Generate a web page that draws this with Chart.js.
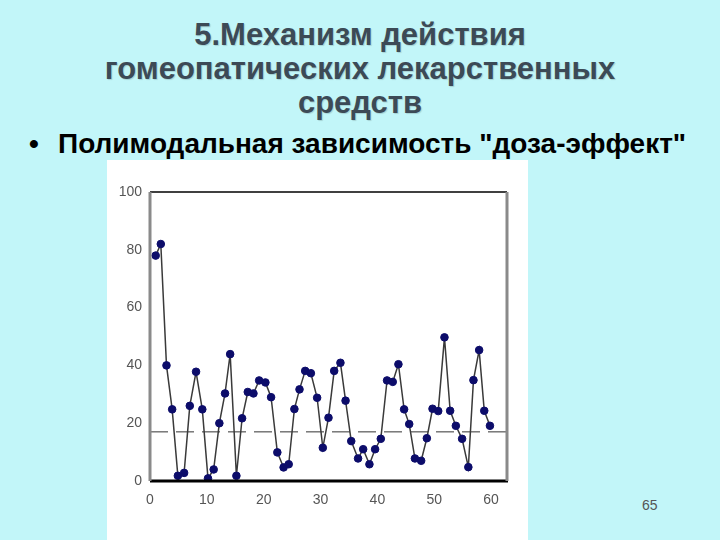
<!DOCTYPE html>
<html>
<head>
<meta charset="utf-8">
<script src="https://cdn.jsdelivr.net/npm/chart.js@4"></script>
<style>
    html, body { margin: 0; padding: 0; }
    body {
        width: 720px; height: 540px; overflow: hidden; position: relative;
        background: #c2f6f9;
        font-family: "Liberation Sans", Arial, sans-serif;
    }
    .title {
        position: absolute; left: 0; width: 720px; text-align: center;
        font-weight: bold; font-size: 31px; color: #3c4a56; line-height: 34px;
        top: 18px;
        text-shadow: 1px 1px 1px rgba(0,0,0,0.15);
    }
    .bullet {
        position: absolute; left: 29px; top: 128px;
        font-weight: bold; font-size: 28px; color: #000; white-space: nowrap;
    }
    .bullet span { display: inline-block; width: 29px; }
    #chartBox {
        position: absolute; left: 107px; top: 160px; width: 421px; height: 380px;
        background: #fff;
    }
    .pageNum {
        position: absolute; left: 642px; top: 497px;
        font-size: 14px; color: #555;
    }
</style>
</head>
<body>
<div class="title">5.Механизм действия<br>гомеопатических лекарственных<br>средств</div>
<div class="bullet"><span>•</span>Полимодальная зависимость "доза-эффект"</div>
<div id="chartBox"><canvas id="doseChart" width="421" height="380"></canvas></div>
<div class="pageNum">65</div>

<script>
// values
const doseX = [1.0, 1.9, 2.9, 3.9, 4.9, 6.0, 7.0, 8.1, 9.2, 10.2,
    11.2, 12.2, 13.2, 14.1, 15.2, 16.2, 17.2, 18.2, 19.2, 20.3,
    21.3, 22.4, 23.5, 24.4, 25.4, 26.3, 27.3, 28.3, 29.4, 30.4,
    31.4, 32.4, 33.5, 34.4, 35.4, 36.6, 37.5, 38.6, 39.6, 40.6,
    41.7, 42.7, 43.7, 44.7, 45.6, 46.6, 47.7, 48.7, 49.7, 50.7,
    51.8, 52.8, 53.8, 54.9, 56.0, 56.9, 57.9, 58.8, 59.8];
const effectY = [78, 82, 40, 24.8, 1.8, 2.8, 26, 37.8, 24.8, 0.9,
    4, 20, 30.3, 43.9, 1.8, 21.7, 30.8, 30.3, 34.8, 34.1,
    29, 9.9, 4.7, 5.8, 24.9, 31.7, 38.1, 37.3, 28.8, 11.5,
    21.9, 38.1, 40.9, 27.8, 13.8, 7.8, 11, 5.8, 11, 14.6,
    34.8, 34.3, 40.4, 24.8, 19.7, 7.8, 7, 14.8, 25, 24.2,
    49.7, 24.3, 19.1, 14.6, 4.8, 34.9, 45.3, 24.3, 19.1];
const baseLevel = 17;
const xMin = 0, xMax = 62.8, xStep = 10;
const yMin = 0, yMax = 100, yStep = 20;

const points = doseX.map((x, i) => ({ x: x, y: effectY[i] }));
const baseLine = [{ x: xMin, y: baseLevel }, { x: xMax, y: baseLevel }];

// frame around the plot: black top/bottom, grey sides
const framePlugin = {
    id: 'frame',
    afterDraw(chart) {
        const { ctx, chartArea: a } = chart;
        ctx.save();
        ctx.strokeStyle = '#000';
        ctx.lineWidth = 1.5;
        ctx.beginPath(); ctx.moveTo(a.left, a.top); ctx.lineTo(a.right, a.top); ctx.stroke();
        ctx.lineWidth = 3;
        ctx.beginPath(); ctx.moveTo(a.left, a.bottom); ctx.lineTo(a.right + 1, a.bottom); ctx.stroke();
        ctx.strokeStyle = '#8a8a8a';
        ctx.beginPath(); ctx.moveTo(a.left, a.top); ctx.lineTo(a.left, a.bottom); ctx.stroke();
        ctx.beginPath(); ctx.moveTo(a.right, a.top); ctx.lineTo(a.right, a.bottom); ctx.stroke();
        ctx.restore();
    }
};

const tickFont = { family: '"Liberation Sans Narrow", "Liberation Sans", Arial', size: 14 };

new Chart(document.getElementById('doseChart'), {
    type: 'scatter',
    data: {
        datasets: [
            {
                label: 'effect',
                data: points,
                showLine: true,
                borderColor: '#3a3a3a',
                borderWidth: 1.5,
                pointRadius: 3.8,
                pointBackgroundColor: '#0c0c6a',
                pointBorderColor: '#0c0c6a',
                pointBorderWidth: 1
            },
            {
                label: 'base',
                data: baseLine,
                showLine: true,
                borderColor: '#333',
                borderWidth: 1,
                borderDash: [18, 8],
                pointRadius: 0
            }
        ]
    },
    options: {
        responsive: false,
        animation: false,
        layout: { padding: { top: 32, right: 21, left: 0, bottom: 0 } },
        plugins: { legend: { display: false }, tooltip: { enabled: false } },
        scales: {
            x: {
                type: 'linear', min: xMin, max: xMax,
                grid: { display: false, drawTicks: false },
                border: { display: false },
                ticks: { stepSize: xStep, includeBounds: false, color: '#555', font: tickFont, padding: 11 },
                afterFit(scale) { scale.height = 59; }
            },
            y: {
                min: yMin, max: yMax,
                grid: { display: false, drawTicks: false },
                border: { display: false },
                ticks: { stepSize: yStep, color: '#555', font: tickFont, padding: 8 },
                afterFit(scale) { scale.width = 43; }
            }
        }
    },
    plugins: [framePlugin]
});
</script>
</body>
</html>
